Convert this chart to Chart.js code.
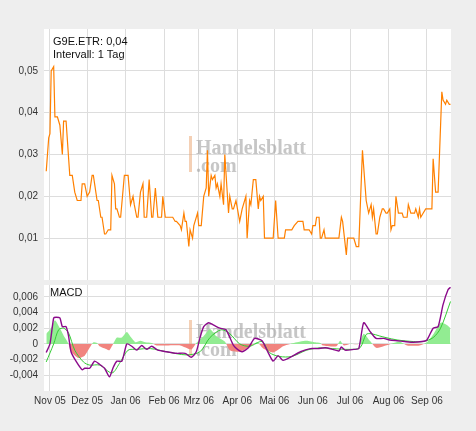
<!DOCTYPE html>
<html><head><meta charset="utf-8">
<script src="https://cdn.jsdelivr.net/npm/chart.js@4"></script>
<style>
body{margin:0;background:#eeeeee;width:476px;height:431px;overflow:hidden;position:relative;font-family:"Liberation Sans",Arial,sans-serif}
canvas{position:absolute;left:0}
</style></head><body>
<canvas id="price" style="top:17px" width="451" height="275"></canvas>
<canvas id="macd" style="top:273px" width="451" height="138"></canvas>
<script>
// day offsets from 1 Nov 2005
const priceDays = [-3,-1,0,1,3,4,6,8,10,11,13,16,18,20,22,25,26,28,30,32,34,35,38,39,41,42,44,45,47,49,50,52,53,54,56,57,60,63,65,67,68,70,71,73,75,76,78,80,82,83,85,87,88,90,91,93,99,101,102,105,106,108,109,110,112,113,115,116,119,120,122,124,126,127,128,130,131,133,134,135,137,138,140,141,144,145,147,148,150,153,155,158,159,161,162,164,166,168,169,170,172,173,180,182,184,189,190,195,197,200,204,205,209,211,212,214,215,217,218,219,221,222,233,235,236,239,240,245,247,249,252,255,257,259,260,261,263,264,266,268,269,271,272,274,275,276,278,279,281,284,285,288,289,291,294,295,297,298,299,301,303,308,309,311,313,316,317,319,320,322,323];
const priceValues = [0.026,0.034,0.035,0.050,0.051,0.039,0.039,0.037,0.030,0.038,0.038,0.025,0.025,0.021,0.019,0.019,0.023,0.023,0.020,0.021,0.025,0.025,0.019,0.019,0.015,0.015,0.011,0.011,0.012,0.012,0.025,0.023,0.017,0.017,0.015,0.015,0.025,0.025,0.018,0.020,0.018,0.015,0.015,0.021,0.023,0.015,0.015,0.024,0.015,0.015,0.022,0.015,0.015,0.015,0.020,0.015,0.015,0.014,0.014,0.013,0.012,0.016,0.014,0.014,0.008,0.012,0.010,0.013,0.016,0.013,0.013,0.020,0.022,0.031,0.020,0.025,0.024,0.025,0.022,0.023,0.020,0.023,0.018,0.030,0.016,0.020,0.017,0.017,0.019,0.014,0.017,0.020,0.010,0.019,0.018,0.024,0.024,0.017,0.020,0.019,0.020,0.010,0.010,0.019,0.010,0.010,0.012,0.012,0.013,0.014,0.014,0.012,0.012,0.011,0.013,0.013,0.015,0.015,0.010,0.010,0.012,0.010,0.010,0.015,0.014,0.006,0.010,0.010,0.008,0.008,0.031,0.019,0.016,0.018,0.015,0.017,0.011,0.011,0.015,0.017,0.017,0.016,0.016,0.017,0.012,0.013,0.013,0.020,0.016,0.016,0.015,0.015,0.018,0.016,0.016,0.017,0.015,0.017,0.015,0.016,0.017,0.017,0.029,0.021,0.021,0.045,0.043,0.042,0.043,0.042,0.042];

const macdDays = [-3,0,3,5,8,10,13,15,17,21,26,28,32,36,40,44,48,51,54,58,62,66,70,74,78,82,87,94,102,109,114,118,121,124,128,132,137,142,148,152,155,160,165,171,175,180,184,188,194,202,210,216,222,228,233,235,238,245,249,253,258,263,269,274,280,286,293,300,304,309,313,317,321,323];
const macdValues = [-0.0011,0,0.0033,0.0034,0.0033,0.0022,0.0022,0.0010,-0.0010,-0.0022,-0.0033,-0.0031,-0.0031,-0.0022,-0.0026,-0.0031,-0.0042,-0.0030,-0.0022,-0.0022,0,-0.0003,-0.0008,-0.0002,-0.0007,-0.0003,-0.0008,-0.0010,-0.0012,-0.0012,-0.0017,-0.0010,0.0008,0.0022,0.0027,0.0024,0.0020,0.0018,-0.0002,-0.0008,-0.0010,-0.0005,0.0007,0.0004,-0.0008,-0.0022,-0.0015,-0.0021,-0.0017,-0.0010,-0.0006,-0.0006,-0.0005,-0.0007,-0.0009,-0.0004,-0.0008,-0.0007,-0.0006,0.0027,0.0016,0.0007,0.0007,0.0005,0.0004,0.0003,0.0002,0.0003,0.0005,0.0020,0.0022,0.0050,0.0069,0.0072];

const signalDays = [-3,3,7,11,15,20,27,32,40,50,56,63,70,81,94,110,121,129,138,145,153,161,171,177,185,195,207,218,228,242,250,255,259,266,271,280,293,301,309,315,323];
const signalValues = [-0.0023,0,0.0018,0.0020,0.0014,-0.0008,-0.0023,-0.0027,-0.0027,-0.0037,-0.0025,-0.0008,-0.0007,-0.0006,-0.0010,-0.0014,-0.0010,0.0008,0.0018,0.0013,0,-0.0003,0.0003,-0.0011,-0.0016,-0.0016,-0.0008,-0.0005,-0.0006,-0.0007,-0.0005,0.0012,0.0013,0.0010,0.0008,0.0005,0.0003,0.0003,0.0008,0.0020,0.0054];

const histDays = [-3,1,4,8,12,15,17,23,28,32,35,38,40,46,48,51,54,58,62,65,69,73,77,82,86,94,105,114,118,124,129,134,141,145,153,160,167,172,180,188,194,202,207,214,218,220,231,234,237,242,249,253,258,263,269,277,282,288,298,304,309,315,320,323];
const histValues = [0.0013,0.0020,0.0030,0.0020,0.0008,0,-0.0010,-0.0018,-0.0015,-0.0005,0.0002,0.0001,-0.0003,-0.0007,-0.0008,0,0.0008,0.0008,0.0015,0.0009,0.0002,0.0004,0.0002,0.0001,-0.0002,-0.0002,-0.0002,-0.0007,0.0001,0.0010,0.0019,0.0010,0.0003,-0.0008,-0.0010,-0.0005,0.0002,-0.0006,-0.0011,-0.0003,0,0.0003,0.0004,0.0002,0.0001,-0.0002,-0.0003,0.0004,-0.0002,0,0,0.0013,0.0004,-0.0005,-0.0003,0.0001,0.0003,-0.0002,-0.0002,0.0002,0.0012,0.0027,0.0024,0.0020];

const monthDays = [0,30,61,92,120,151,181,212,242,273,304];
const monthLabels = ['Nov 05','Dez 05','Jan 06','Feb 06','Mrz 06','Apr 06','Mai 06','Jun 06','Jul 06','Aug 06','Sep 06'];
const priceTicks = [0.01,0.02,0.03,0.04,0.05];
const macdTicks = [-0.004,-0.002,0,0.002,0.004,0.006];

const X_MIN = -4.8, X_MAX = 323.4;
const pts = (xs, ys) => xs.map((x, i) => ({x, y: ys[i]}));
const comma = (v, d) => v === 0 ? '0' : v.toFixed(d).replace('.', ',');

// texts: [label, x, offset below chart top]; markTop: watermark top in page px
const panelPlugin = (texts, markTop) => ({
  id: 'panel',
  beforeDraw(chart) {
    const {ctx, chartArea: a} = chart;
    ctx.save();
    ctx.fillStyle = '#ffffff';
    ctx.fillRect(a.left, a.top, a.right - a.left, a.bottom - a.top);
    ctx.restore();
  },
  beforeDatasetsDraw(chart) {
    const {ctx} = chart;
    const wy = markTop - chart.canvas.offsetTop;
    ctx.save();
    ctx.fillStyle = 'rgba(235,170,120,0.55)';
    ctx.fillRect(189, wy, 3, 36);
    ctx.fillStyle = 'rgba(160,160,160,0.6)';
    ctx.font = 'bold 20px "Liberation Serif", serif';
    ctx.fillText('Handelsblatt', 196, wy + 18);
    ctx.fillText('.com', 196, wy + 36);
    ctx.restore();
  },
  afterDraw(chart) {
    const {ctx, chartArea: a} = chart;
    ctx.save();
    ctx.fillStyle = '#111';
    ctx.font = '11px "Liberation Sans", Arial, sans-serif';
    texts.forEach(t => ctx.fillText(t[0], t[1], a.top + t[2]));
    ctx.restore();
  }
});

const gridColor = '#dddddd';
const tickFont = {family: '"Liberation Sans", Arial, sans-serif', size: 10};

new Chart(document.getElementById('price'), {
  type: 'line',
  data: {datasets: [{data: pts(priceDays, priceValues), borderColor: '#ff8000', borderWidth: 1.2, pointRadius: 0, tension: 0}]},
  options: {
    responsive: false, animation: false,
    layout: {padding: {top: 2, bottom: 0, left: 0, right: 0}},
    plugins: {legend: {display: false}, tooltip: {enabled: false}},
    scales: {
      x: {type: 'linear', min: X_MIN, max: X_MAX,
        afterBuildTicks: s => { s.ticks = monthDays.map(v => ({value: v})); },
        ticks: {display: false}, grid: {color: gridColor, drawTicks: false}, border: {display: false},
        afterFit: s => { s.height = 0; }},
      y: {min: 0, max: 0.06,
        afterBuildTicks: s => { s.ticks = priceTicks.map(v => ({value: v})); },
        ticks: {color: '#333', font: tickFont, padding: 6, callback: v => comma(v, 2)},
        grid: {color: gridColor, drawTicks: false}, border: {display: false},
        afterFit: s => { s.width = 44; }}
    }
  },
  plugins: [panelPlugin([['G9E.ETR: 0,04', 53, 16], ['Intervall: 1 Tag', 53, 29]], 136)]
});

new Chart(document.getElementById('macd'), {
  type: 'line',
  data: {datasets: [
    {data: pts(macdDays, macdValues), borderColor: '#8b0a8b', borderWidth: 1.4, pointRadius: 0, tension: 0.2},
    {data: pts(signalDays, signalValues), borderColor: '#33cc33', borderWidth: 1, pointRadius: 0, tension: 0.3},
    {data: pts(histDays, histValues), borderWidth: 0, pointRadius: 0, tension: 0.2,
      fill: {target: 'origin', above: 'rgba(140,235,140,0.95)', below: 'rgba(240,125,120,0.95)'}}
  ]},
  options: {
    responsive: false, animation: false,
    layout: {padding: 0},
    plugins: {legend: {display: false}, tooltip: {enabled: false}},
    scales: {
      x: {type: 'linear', min: X_MIN, max: X_MAX,
        afterBuildTicks: s => { s.ticks = monthDays.map(v => ({value: v})); },
        ticks: {color: '#333', font: tickFont, padding: 4, maxRotation: 0, autoSkip: false,
          callback: v => monthLabels[monthDays.indexOf(v)]},
        grid: {color: gridColor, drawTicks: false}, border: {display: false}},
      y: {min: -0.006, max: 0.0075,
        afterBuildTicks: s => { s.ticks = macdTicks.map(v => ({value: v})); },
        ticks: {color: '#333', font: tickFont, padding: 6, callback: v => comma(v, 3)},
        grid: {color: gridColor, drawTicks: false}, border: {display: false},
        afterFit: s => { s.width = 44; }}
    }
  },
  plugins: [panelPlugin([['MACD', 50, 11]], 320)]
});
</script>
</body></html>
